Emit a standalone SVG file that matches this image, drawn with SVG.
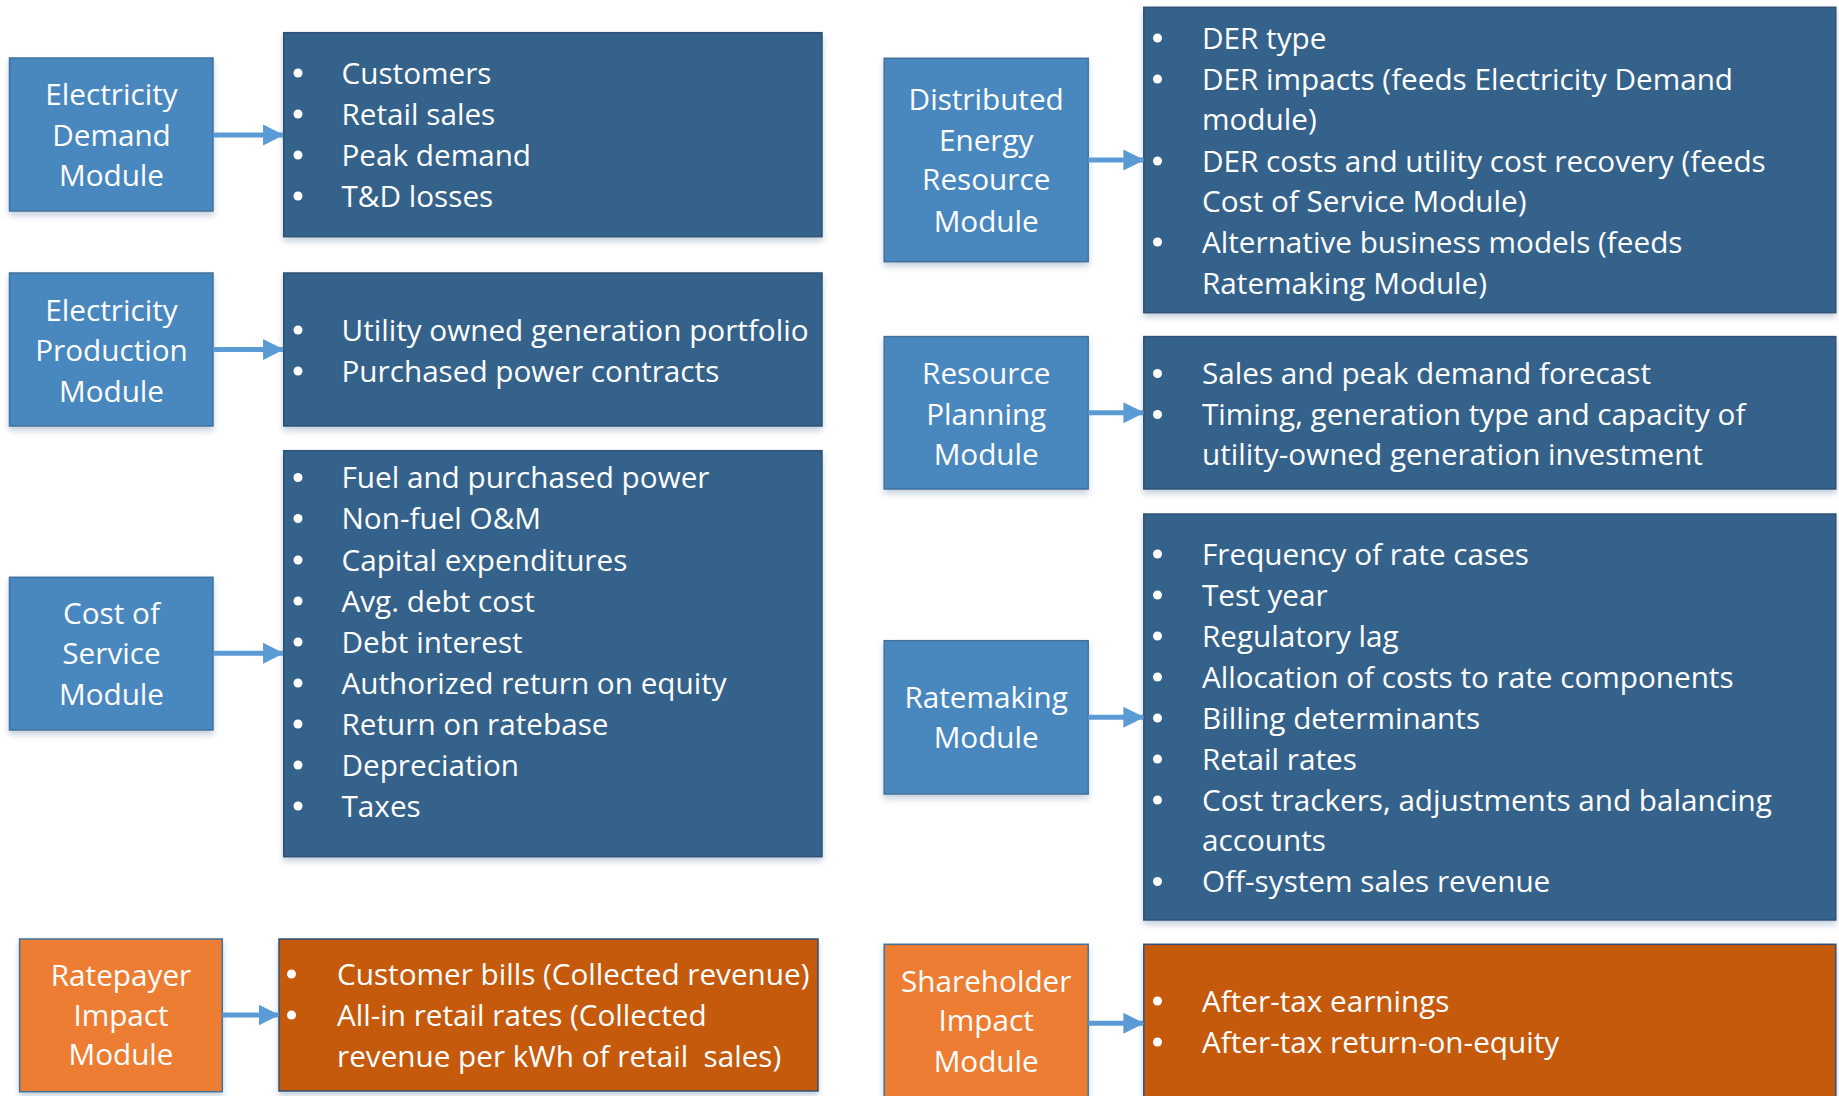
<svg xmlns="http://www.w3.org/2000/svg" width="1839" height="1096" viewBox="0 0 1839 1096">
  <defs>
    <filter id="shadow" x="-10%" y="-10%" width="120%" height="130%">
      <feDropShadow dx="0" dy="4" stdDeviation="3" flood-color="#7f9ab5" flood-opacity="0.45"/>
    </filter>
    <marker id="head" viewBox="0 0 10 10" refX="9.5" refY="5" markerWidth="4.2" markerHeight="4.4" markerUnits="strokeWidth" orient="auto">
      <path d="M0,0 L10,5 L0,10 Z" fill="#5b9bd5"/>
    </marker>
  </defs>
  <style>
    .mod { fill: #4a87bf; stroke: #41719c; stroke-width: 1.5; filter: url(#shadow); }
    .list { fill: #36628a; stroke: #2d5175; stroke-width: 1.5; filter: url(#shadow); }
    .mod-o { fill: #ed7d31; stroke: #41719c; stroke-width: 1.5; filter: url(#shadow); }
    .list-o { fill: #c55a11; stroke: #2d5175; stroke-width: 1.5; filter: url(#shadow); }
    text { font-family: "Open Sans", "Noto Sans", "Liberation Sans", sans-serif; font-size: 29.7px; fill: #ffffff; }
    .c { text-anchor: middle; }
    .pre { white-space: pre; }
    .dot { fill: #ffffff; }
    .arrow { stroke: #5b9bd5; stroke-width: 5; fill: none; marker-end: url(#head); }
  </style>

  <!-- Electricity Demand Module -->
  <g id="electricity-demand">
    <rect class="mod" x="9.5" y="58" width="203.5" height="153"/>
    <text class="c" x="111.5" y="105">Electricity</text>
    <text class="c" x="111.5" y="146">Demand</text>
    <text class="c" x="111.5" y="186">Module</text>
  </g>
  <g id="electricity-demand-outputs">
    <rect class="list" x="283.7" y="32.7" width="538.3" height="204"/>
    <circle class="dot" cx="298" cy="73" r="4.5"/><text x="341.5" y="83.5">Customers</text>
    <circle class="dot" cx="298" cy="114" r="4.5"/><text x="341.5" y="124.5">Retail sales</text>
    <circle class="dot" cx="298" cy="155" r="4.5"/><text x="341.5" y="165.5">Peak demand</text>
    <circle class="dot" cx="298" cy="196" r="4.5"/><text x="341.5" y="206.5">T&amp;D losses</text>
  </g>

  <!-- Electricity Production Module -->
  <g id="electricity-production">
    <rect class="mod" x="9.5" y="273" width="203.5" height="153"/>
    <text class="c" x="111.5" y="320.6">Electricity</text>
    <text class="c" x="111.5" y="360.5">Production</text>
    <text class="c" x="111.5" y="401.5">Module</text>
  </g>
  <g id="electricity-production-outputs">
    <rect class="list" x="283.7" y="273" width="538.3" height="153"/>
    <circle class="dot" cx="298" cy="330" r="4.5"/><text x="341.5" y="340.5">Utility owned generation portfolio</text>
    <circle class="dot" cx="298" cy="371" r="4.5"/><text x="341.5" y="381.5">Purchased power contracts</text>
  </g>

  <!-- Cost of Service Module -->
  <g id="cost-of-service">
    <rect class="mod" x="9.5" y="577.3" width="203.5" height="152.7"/>
    <text class="c" x="111.5" y="624">Cost of</text>
    <text class="c" x="111.5" y="664">Service</text>
    <text class="c" x="111.5" y="705">Module</text>
  </g>
  <g id="cost-of-service-outputs">
    <rect class="list" x="283.7" y="450.7" width="538.3" height="406"/>
    <circle class="dot" cx="298" cy="477.5" r="4.5"/><text x="341.5" y="488">Fuel and purchased power</text>
    <circle class="dot" cx="298" cy="518.5" r="4.5"/><text x="341.5" y="529">Non-fuel O&amp;M</text>
    <circle class="dot" cx="298" cy="560" r="4.5"/><text x="341.5" y="570.5">Capital expenditures</text>
    <circle class="dot" cx="298" cy="601" r="4.5"/><text x="341.5" y="611.5">Avg. debt cost</text>
    <circle class="dot" cx="298" cy="642" r="4.5"/><text x="341.5" y="652.5">Debt interest</text>
    <circle class="dot" cx="298" cy="683" r="4.5"/><text x="341.5" y="693.5">Authorized return on equity</text>
    <circle class="dot" cx="298" cy="724" r="4.5"/><text x="341.5" y="734.5">Return on ratebase</text>
    <circle class="dot" cx="298" cy="765" r="4.5"/><text x="341.5" y="775.5">Depreciation</text>
    <circle class="dot" cx="298" cy="806" r="4.5"/><text x="341.5" y="816.5">Taxes</text>
  </g>

  <!-- Ratepayer Impact Module -->
  <g id="ratepayer-impact">
    <rect class="mod-o" x="19.6" y="939" width="202.7" height="152.7"/>
    <text class="c" x="121" y="985.6">Ratepayer</text>
    <text class="c" x="121" y="1025.5">Impact</text>
    <text class="c" x="121" y="1065.3">Module</text>
  </g>
  <g id="ratepayer-impact-outputs">
    <rect class="list-o" x="279" y="939" width="539" height="152"/>
    <circle class="dot" cx="291.5" cy="974" r="4.5"/><text x="337" y="984.5">Customer bills (Collected revenue)</text>
    <circle class="dot" cx="291.5" cy="1015" r="4.5"/><text x="337" y="1025.5">All-in retail rates (Collected</text>
    <text class="pre" x="337" y="1066.5">revenue per kWh of retail  sales)</text>
  </g>

  <!-- Distributed Energy Resource Module -->
  <g id="distributed-energy-resource">
    <rect class="mod" x="884.2" y="58.3" width="204" height="203.4"/>
    <text class="c" x="986.2" y="109.5">Distributed</text>
    <text class="c" x="986.2" y="150.6">Energy</text>
    <text class="c" x="986.2" y="190.4">Resource</text>
    <text class="c" x="986.2" y="231.5">Module</text>
  </g>
  <g id="distributed-energy-resource-outputs">
    <rect class="list" x="1143.8" y="7.3" width="692" height="305.4"/>
    <circle class="dot" cx="1157.5" cy="38" r="4.5"/><text x="1202" y="48.5">DER type</text>
    <circle class="dot" cx="1157.5" cy="79" r="4.5"/><text x="1202" y="89.5">DER impacts (feeds Electricity Demand</text>
    <text x="1202" y="130.2">module)</text>
    <circle class="dot" cx="1157.5" cy="161" r="4.5"/><text x="1202" y="171.5">DER costs and utility cost recovery (feeds</text>
    <text x="1202" y="211.8">Cost of Service Module)</text>
    <circle class="dot" cx="1157.5" cy="242" r="4.5"/><text x="1202" y="252.6">Alternative business models (feeds</text>
    <text x="1202" y="293.5">Ratemaking Module)</text>
  </g>

  <!-- Resource Planning Module -->
  <g id="resource-planning">
    <rect class="mod" x="884.2" y="336.6" width="204" height="152.4"/>
    <text class="c" x="986.2" y="384">Resource</text>
    <text class="c" x="986.2" y="425">Planning</text>
    <text class="c" x="986.2" y="465">Module</text>
  </g>
  <g id="resource-planning-outputs">
    <rect class="list" x="1143.8" y="336.6" width="692" height="152.4"/>
    <circle class="dot" cx="1157.5" cy="373.5" r="4.5"/><text x="1202" y="384">Sales and peak demand forecast</text>
    <circle class="dot" cx="1157.5" cy="414.5" r="4.5"/><text x="1202" y="425">Timing, generation type and capacity of</text>
    <text x="1202" y="465">utility-owned generation investment</text>
  </g>

  <!-- Ratemaking Module -->
  <g id="ratemaking">
    <rect class="mod" x="884.2" y="640.7" width="204" height="153.3"/>
    <text class="c" x="986.2" y="707.6">Ratemaking</text>
    <text class="c" x="986.2" y="747.5">Module</text>
  </g>
  <g id="ratemaking-outputs">
    <rect class="list" x="1143.8" y="514" width="692" height="406"/>
    <circle class="dot" cx="1157.5" cy="554" r="4.5"/><text x="1202" y="564.6">Frequency of rate cases</text>
    <circle class="dot" cx="1157.5" cy="595" r="4.5"/><text x="1202" y="605.6">Test year</text>
    <circle class="dot" cx="1157.5" cy="636" r="4.5"/><text x="1202" y="646.7">Regulatory lag</text>
    <circle class="dot" cx="1157.5" cy="677" r="4.5"/><text x="1202" y="687.7">Allocation of costs to rate components</text>
    <circle class="dot" cx="1157.5" cy="718" r="4.5"/><text x="1202" y="728.7">Billing determinants</text>
    <circle class="dot" cx="1157.5" cy="759" r="4.5"/><text x="1202" y="769.8">Retail rates</text>
    <circle class="dot" cx="1157.5" cy="800" r="4.5"/><text x="1202" y="810.8">Cost trackers, adjustments and balancing</text>
    <text x="1202" y="851">accounts</text>
    <circle class="dot" cx="1157.5" cy="881.5" r="4.5"/><text x="1202" y="892">Off-system sales revenue</text>
  </g>

  <!-- Shareholder Impact Module -->
  <g id="shareholder-impact">
    <rect class="mod-o" x="884.2" y="944.3" width="204" height="170"/>
    <text class="c" x="986.2" y="991.5">Shareholder</text>
    <text class="c" x="986.2" y="1031.3">Impact</text>
    <text class="c" x="986.2" y="1072.4">Module</text>
  </g>
  <g id="shareholder-impact-outputs">
    <rect class="list-o" x="1143.8" y="944.3" width="692" height="170"/>
    <circle class="dot" cx="1157.5" cy="1001" r="4.5"/><text x="1202" y="1011.5">After-tax earnings</text>
    <circle class="dot" cx="1157.5" cy="1042" r="4.5"/><text x="1202" y="1052.5">After-tax return-on-equity</text>
  </g>

  <!-- Module-to-output connectors -->
  <g id="connectors">
    <line class="arrow" x1="213" y1="135" x2="283" y2="135"/>
    <line class="arrow" x1="213" y1="349.5" x2="283" y2="349.5"/>
    <line class="arrow" x1="213" y1="653.3" x2="283" y2="653.3"/>
    <line class="arrow" x1="222.3" y1="1015" x2="278.5" y2="1015"/>
    <line class="arrow" x1="1088.2" y1="160" x2="1143.3" y2="160"/>
    <line class="arrow" x1="1088.2" y1="412.8" x2="1143.3" y2="412.8"/>
    <line class="arrow" x1="1088.2" y1="717.3" x2="1143.3" y2="717.3"/>
    <line class="arrow" x1="1088.2" y1="1023.3" x2="1143.3" y2="1023.3"/>
  </g>
</svg>
